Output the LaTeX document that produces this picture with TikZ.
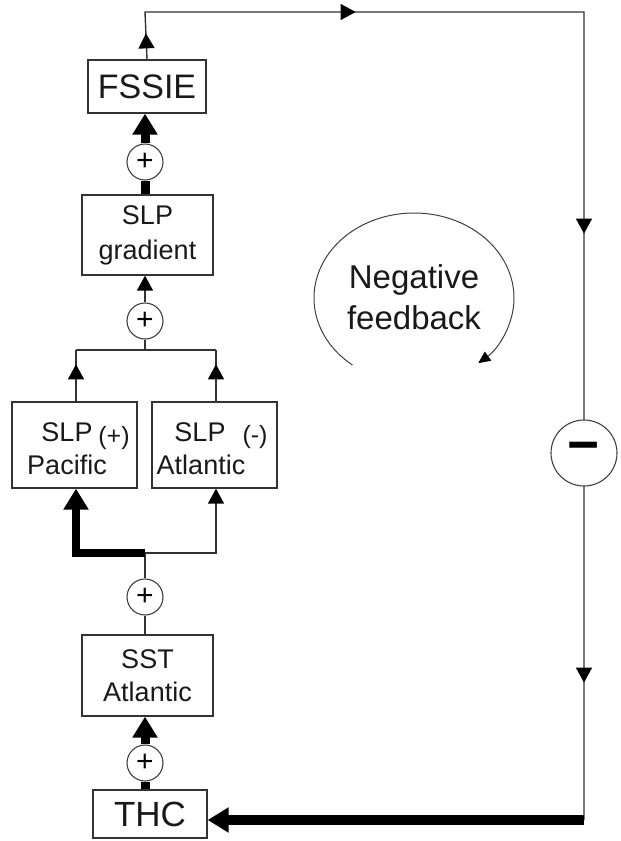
\documentclass[tikz,border=0pt]{standalone}
\usepackage{fontspec}
\setmainfont{Liberation Sans}
\usetikzlibrary{arrows.meta,positioning,decorations.markings,calc}

\tikzset{
  tiphead/.tip={Triangle[width=16pt,length=15pt,color=black]},
  box/.style={draw=black!80,line width=1.3pt,inner sep=0pt,text=black!90},
  sumnode/.style={circle,draw=black!75,line width=1.1pt,fill=white,inner sep=0pt,
                  minimum size=36pt,font=\fontsize{30}{30}\selectfont},
  link/.style={draw=black!80,line width=1.4pt},
  heavy/.style={draw=black,line width=9pt},
  thinhead/.style={-{Triangle[width=16pt,length=15pt,color=black]}},
  heavyhead/.style={-{Triangle[width=24pt,length=21pt]}},
  midhead/.style={postaction={decorate},
                  decoration={markings,mark=at position #1 with {\arrow{tiphead}}}},
  lbl/.style={inner sep=0pt,text=black!90,font=\fontsize{27}{34}\selectfont},
  sign/.style={inner sep=0pt,text=black!90,font=\fontsize{25}{25}\selectfont}
}

\begin{document}
\begin{tikzpicture}[x=1pt,y=-1pt]
  \useasboundingbox (0,0) rectangle (621,841);

  % boxes
  \node[box,minimum width=118pt,minimum height=53pt,font=\fontsize{34}{34}\selectfont]
        (fssie) at (147,86.5) {FSSIE};
  \node[box,minimum width=131pt,minimum height=80pt,align=center,font=\fontsize{27}{35}\selectfont]
        (grad) at (147.5,235) {SLP\\gradient};
  \node[box,minimum width=125pt,minimum height=86pt] (pac) at (74.5,445) {};
  \node[box,minimum width=125pt,minimum height=86pt] (atl) at (214.5,445) {};
  \node[box,minimum width=131pt,minimum height=81pt,align=center,font=\fontsize{27}{33}\selectfont]
        (sst) at (147.5,675.5) {SST\\Atlantic};
  \node[box,minimum width=114pt,minimum height=48pt,font=\fontsize{35}{35}\selectfont]
        (thc) at (150,814) {THC};

  % labels in the SLP boxes
  \node[lbl]  (pacslp)  at (67,432)  {SLP};
  \node[sign] (pacsign) at (114,438) {(+)};
  \node[lbl]  (pacname) at (67,465)  {Pacific};
  \node[lbl]  (atlslp)  at (200,432) {SLP};
  \node[sign] (atlsign) at (255,437) {(-)};
  \node[lbl]  (atlname) at (201,465) {Atlantic};

  % summing points
  \node[sumnode] (c1) at (145,162) {+};
  \node[sumnode] (c2) at (145,321) {+};
  \node[sumnode] (c3) at (145,597) {+};
  \node[sumnode] (c4) at (145,763) {+};

  \coordinate (ubrL) at (76,350);
  \coordinate (ubr)  at (145,350);
  \coordinate (ubrR) at (216,350);
  \coordinate (lbrL) at (76,553);
  \coordinate (lbr)  at (145,553);
  \coordinate (lbrR) at (216,553);
  \coordinate (topL) at (145,12);
  \coordinate (topR) at (584,12);
  \coordinate (botR) at (584,820);

  % THC -> SST
  \draw[heavy] (c4.south |- thc.north) -- (c4.south);
  \draw[heavy,heavyhead] (c4.north) -- (c4.north |- sst.south);
  \draw[link] (c3.south |- sst.north) -- (c3.south);
  \draw[link] (c3.north) -- (lbr);

  % SST -> SLP boxes
  \draw[heavy,heavyhead,line width=8pt,line join=miter] (lbr) -- (lbrL) -- (lbrL |- pac.south);
  \draw[link,thinhead] (lbr) -- (lbrR) -- (lbrR |- atl.south);

  % SLP boxes -> gradient
  \draw[link,midhead=37pt] (ubrL |- pac.north) -- (ubrL);
  \draw[link,midhead=37pt] (ubrR |- atl.north) -- (ubrR);
  \draw[link] (ubrL) -- (ubrR);
  \draw[link] (ubr) -- (c2.south);
  \draw[link,thinhead] (c2.north) -- (c2.north |- grad.south);

  % gradient -> FSSIE
  \draw[heavy] (c1.south |- grad.north) -- (c1.south);
  \draw[heavy,heavyhead] (c1.north) -- (c1.north |- fssie.south);

  % feedback loop
  \draw[link,postaction={decorate},decoration={markings,
      mark=at position 26pt with {\arrow{tiphead}},
      mark=at position 258pt with {\arrow{tiphead}},
      mark=at position 708pt with {\arrow{tiphead}},
      mark=at position 1157pt with {\arrow{tiphead}}}]
    (fssie.north) -- (topL) -- (topR) -- (botR);
  \draw[heavy,line width=10pt,heavyhead] (botR) -- (botR -| thc.east);
  \node[sumnode,minimum size=66pt,font=\fontsize{55}{55}\selectfont\bfseries] (minus) at (584,453) {−};

  % negative feedback
  \node[inner sep=0pt,align=center,text=black!90,font=\fontsize{33}{41}\selectfont]
        (fb) at (414,297) {Negative\\feedback};
  \coordinate (fbc) at (414,298);
  \draw[draw=black!75,line width=1pt,-{Triangle[width=11pt,length=12pt,color=black]}]
    ([shift={(232:100pt and 85pt)}]fbc) arc[start angle=232,end angle=-50,x radius=100pt,y radius=85pt];
\end{tikzpicture}
\end{document}
